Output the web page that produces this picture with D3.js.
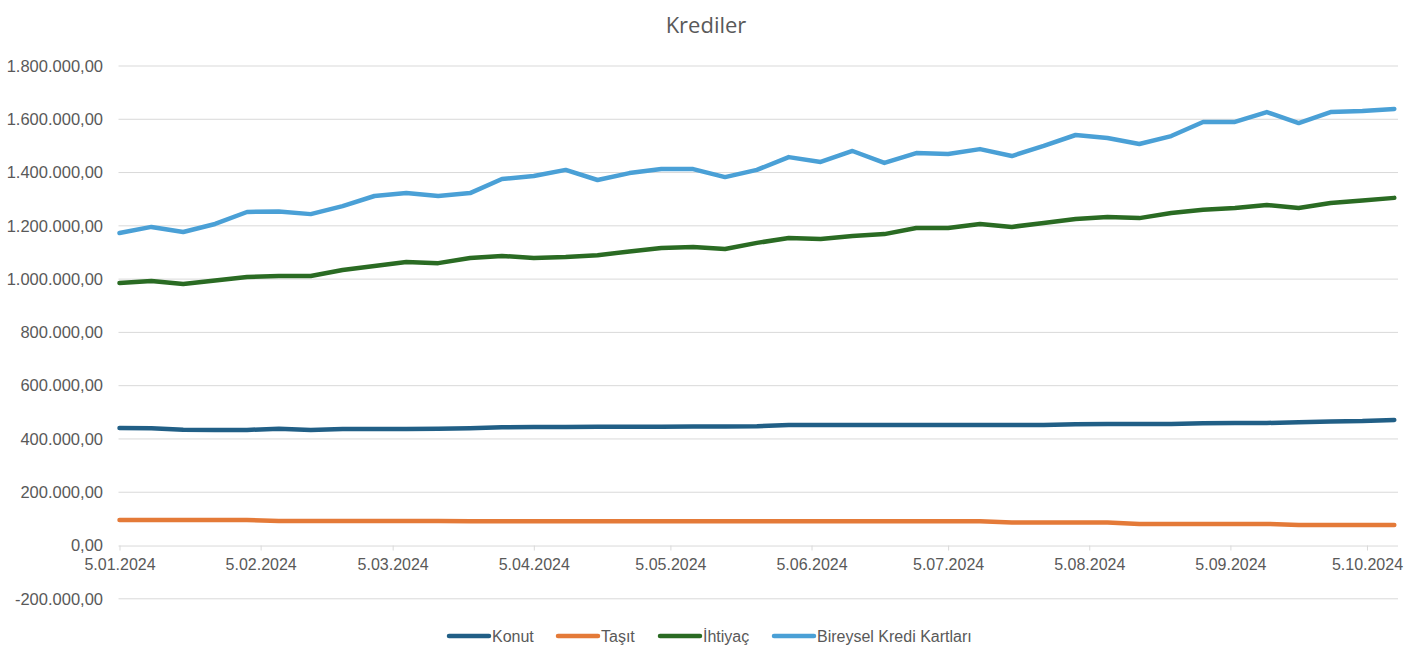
<!DOCTYPE html>
<html>
<head>
<meta charset="utf-8">
<script src="https://cdn.jsdelivr.net/npm/d3@7"></script>
<style>
  body { margin: 0; background: #fff; }
  svg { display: block; }
</style>
</head>
<body>
<svg id="viz" width="1408" height="656"></svg>
<script>
// weekly dates (Fridays)
let dates = [
  "2024-01-05", "2024-01-12", "2024-01-19", "2024-01-26", "2024-02-02", "2024-02-09",
  "2024-02-16", "2024-02-23", "2024-03-01", "2024-03-08", "2024-03-15", "2024-03-22",
  "2024-03-29", "2024-04-05", "2024-04-12", "2024-04-19", "2024-04-26", "2024-05-03",
  "2024-05-10", "2024-05-17", "2024-05-24", "2024-05-31", "2024-06-07", "2024-06-14",
  "2024-06-21", "2024-06-28", "2024-07-05", "2024-07-12", "2024-07-19", "2024-07-26",
  "2024-08-02", "2024-08-09", "2024-08-16", "2024-08-23", "2024-08-30", "2024-09-06",
  "2024-09-13", "2024-09-20", "2024-09-27", "2024-10-04", "2024-10-11"
];

let konut = [
  441000, 440000, 435000, 434000, 434000, 438000, 434000, 437000, 437000, 437000,
  438000, 440000, 444000, 445000, 445000, 446000, 446000, 446000, 447000, 447000,
  448000, 452000, 452000, 452000, 452000, 452000, 452000, 452000, 452000, 452000,
  455000, 456000, 456000, 456000, 459000, 460000, 460000, 463000, 466000, 467000, 471000
];

let tasit = [
  96000, 96000, 96000, 96000, 96000, 92000, 92000, 92000, 92000, 92000,
  92000, 91000, 91000, 91000, 91000, 91000, 91000, 91000, 91000, 91000,
  91000, 91000, 91000, 91000, 91000, 91000, 91000, 91000, 86000, 86000,
  86000, 86000, 81000, 81000, 81000, 81000, 81000, 77000, 77000, 77000, 77000
];

let ihtiyac = [
  985000, 993000, 982000, 995000, 1008000, 1012000, 1012000, 1034000, 1049000, 1064000,
  1060000, 1079000, 1087000, 1079000, 1083000, 1090000, 1104000, 1117000, 1121000, 1113000,
  1136000, 1154000, 1151000, 1162000, 1169000, 1192000, 1192000, 1207000, 1196000, 1211000,
  1226000, 1233000, 1229000, 1248000, 1260000, 1267000, 1278000, 1267000, 1286000, 1295000, 1305000
];

let kartlar = [
  1173000, 1196000, 1177000, 1207000, 1252000, 1254000, 1244000, 1274000, 1312000, 1323000,
  1312000, 1323000, 1376000, 1387000, 1410000, 1372000, 1398000, 1413000, 1413000, 1383000,
  1410000, 1458000, 1440000, 1481000, 1436000, 1473000, 1470000, 1488000, 1462000, 1500000,
  1541000, 1530000, 1507000, 1537000, 1590000, 1590000, 1627000, 1586000, 1627000, 1631000, 1639000
];

let seriesNames = ["Konut", "Taşıt", "İhtiyaç", "Bireysel Kredi Kartları"];
let seriesColors = ["#215f86", "#e47a38", "#2a6b23", "#4aa0d6"];
let seriesValues = [konut, tasit, ihtiyac, kartlar];

let xTickDates = [
  "2024-01-05", "2024-02-05", "2024-03-05", "2024-04-05", "2024-05-05",
  "2024-06-05", "2024-07-05", "2024-08-05", "2024-09-05", "2024-10-05"
];
let yTicks = [-200000, 0, 200000, 400000, 600000, 800000, 1000000, 1200000, 1400000, 1600000, 1800000];

let parse = d3.timeParse("%Y-%m-%d");
let trLocale = d3.formatLocale({ decimal: ",", thousands: ".", grouping: [3], currency: ["", " ₺"], minus: "-" });
let yFormat = trLocale.format(",.2f");
let xFormat = d3.timeFormat("%-d.%m.%Y");

let plotLeft = 119.5;
let plotRight = 1398;
let labelColor = "#595959";

let vizArea = d3.select("#viz");

let xScale = d3.scaleTime()
  .domain([parse(dates[0]), parse(dates[dates.length - 1])])
  .range([plotLeft, 1394.3]);

let yScale = d3.scaleLinear()
  .domain([-200000, 1800000])
  .range([598.8, 66]);

// title
vizArea.append("text")
  .attr("x", 706)
  .attr("y", 33)
  .attr("text-anchor", "middle")
  .attr("font-family", "Open Sans, Liberation Sans, sans-serif")
  .attr("font-size", 22)
  .attr("fill", labelColor)
  .text("Krediler");

// gridlines
vizArea.append("g")
  .selectAll("line")
  .data(yTicks.filter(d => d !== 0))
  .enter()
  .append("line")
  .attr("x1", plotLeft - 1)
  .attr("x2", plotRight)
  .attr("y1", d => yScale(d))
  .attr("y2", d => yScale(d))
  .attr("stroke", "#d9d9d9")
  .attr("stroke-width", 1);

// y labels
vizArea.append("g")
  .selectAll("text")
  .data(yTicks)
  .enter()
  .append("text")
  .attr("x", 103)
  .attr("y", d => yScale(d))
  .attr("dy", "0.35em")
  .attr("text-anchor", "end")
  .attr("font-family", "Liberation Sans, Arial, sans-serif")
  .attr("font-size", 16.5)
  .attr("fill", labelColor)
  .text(d => yFormat(d));

// x axis at zero
let xAxis = d3.axisBottom(xScale)
  .tickValues(xTickDates.map(parse))
  .tickFormat(xFormat)
  .tickSize(5)
  .tickPadding(8);

let xg = vizArea.append("g")
  .attr("transform", `translate(0, ${yScale(0)})`)
  .call(xAxis);
xg.select(".domain").attr("d", `M${plotLeft - 1},0.5H${plotRight}`).attr("stroke", "#d9d9d9");
xg.selectAll(".tick line").attr("stroke", "#d9d9d9");
xg.selectAll(".tick text")
  .attr("font-family", "Liberation Sans, Arial, sans-serif")
  .attr("font-size", 16)
  .attr("fill", labelColor);

// lines
let line = d3.line()
  .x((d, i) => xScale(parse(dates[i])))
  .y(d => yScale(d));

vizArea.append("g")
  .selectAll("path")
  .data(seriesValues)
  .enter()
  .append("path")
  .attr("d", d => line(d))
  .attr("fill", "none")
  .attr("stroke", (d, i) => seriesColors[i])
  .attr("stroke-width", 4.5)
  .attr("stroke-linejoin", "round")
  .attr("stroke-linecap", "round");

// legend
let legendX = [449, 558, 660, 774];
let legend = vizArea.append("g");
seriesNames.forEach((name, i) => {
  let g = legend.append("g").attr("transform", `translate(${legendX[i]}, 636)`);
  g.append("line")
    .attr("x1", 0).attr("x2", 40)
    .attr("stroke", seriesColors[i])
    .attr("stroke-width", 4.5)
    .attr("stroke-linecap", "round");
  g.append("text")
    .attr("x", 43)
    .attr("dy", "0.35em")
    .attr("font-family", "Liberation Sans Narrow, Arial Narrow, sans-serif")
    .attr("font-size", 16)
    .attr("fill", labelColor)
    .text(name);
});
</script>
</body>
</html>
